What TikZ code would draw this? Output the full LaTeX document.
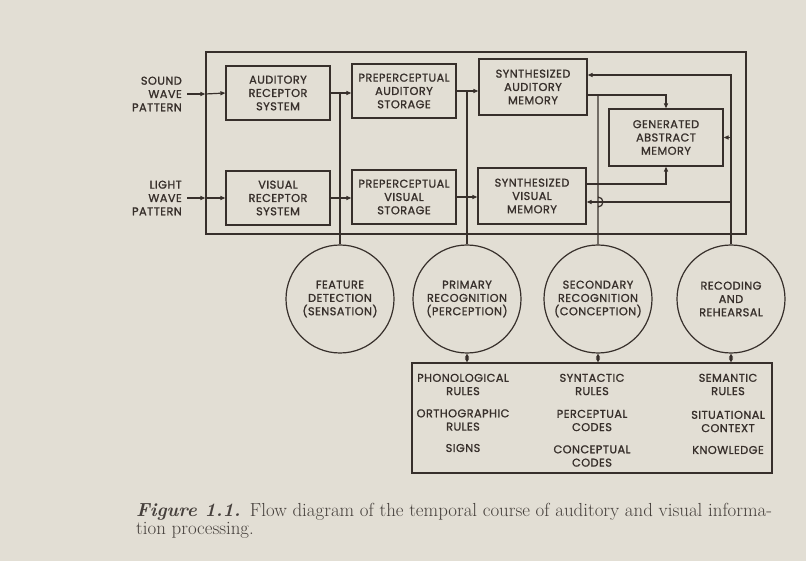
\documentclass[tikz,border=0pt]{standalone}
\usepackage{fontspec}
\newfontfamily\diagfont{Poppins}[LetterSpace=4,FakeBold=1.2]
\usetikzlibrary{arrows.meta}
\definecolor{paper}{RGB}{226,222,212}
\definecolor{ink}{RGB}{55,47,43}
\definecolor{captink}{RGB}{70,64,60}
\begin{document}
\begin{tikzpicture}[x=1pt,y=-1pt,
  every node/.style={text=ink},
  lbl/.style={font=\diagfont\fontsize{11.3}{13.3}\selectfont, align=center, inner sep=0pt},
  box/.style={lbl, draw=ink, line width=1.2pt, minimum width=104pt, minimum height=54pt},
  bigbox/.style={box, minimum width=108pt, minimum height=56pt},
  gambox/.style={box, minimum width=114pt, minimum height=57pt},
  circ/.style={lbl, draw=ink, line width=1.2pt, circle, minimum size=108pt},
  ln/.style={draw=ink, line width=1.2pt},
  arr/.style={ln, -{Triangle[length=5pt,width=4pt]}},
  dbl/.style={ln, {Triangle[length=4pt,width=4pt]}-{Triangle[length=4pt,width=4pt]}},
]
\fill[paper] (0,0) rectangle (806,561);
\useasboundingbox (0,0) rectangle (806,561);

% outer frame
\node[draw=ink, line width=1.2pt, minimum width=540pt, minimum height=182pt, inner sep=0pt] (outer) at (476,143) {};

% boxes
\node[box] (ARS) at (278,93) {AUDITORY\\RECEPTOR\\SYSTEM};
\node[box] (PAS) at (404,91) {PREPERCEPTUAL\\AUDITORY\\STORAGE};
\node[box] (VRS) at (278,198) {VISUAL\\RECEPTOR\\SYSTEM};
\node[box] (PVS) at (404,197) {PREPERCEPTUAL\\VISUAL\\STORAGE};
\node[bigbox] (SAM) at (533,87) {SYNTHESIZED\\AUDITORY\\MEMORY};
\node[bigbox] (SVM) at (532,196) {SYNTHESIZED\\VISUAL\\MEMORY};
\node[gambox] (GAM) at (666,137.5) {GENERATED\\ABSTRACT\\MEMORY};

% input labels
\node[lbl, align=right, anchor=east] (snd) at (182,94) {SOUND\\WAVE\\PATTERN};
\node[lbl, align=right, anchor=east] (lgt) at (182,198) {LIGHT\\WAVE\\PATTERN};

% circles
\node[circ] (FD) at (340,299) {FEATURE\\DETECTION\\(SENSATION)};
\node[circ] (PR) at (467,299) {PRIMARY\\RECOGNITION\\(PERCEPTION)};
\node[circ] (SR) at (598,299) {SECONDARY\\RECOGNITION\\(CONCEPTION)};
\node[circ] (RR) at (731,299) {RECODING\\AND\\REHEARSAL};

% knowledge box
\node[draw=ink, line width=1.2pt, minimum width=360pt, minimum height=110pt, inner sep=0pt] (KB) at (592,418) {};
\node[lbl] (k11) at (463,384.5) {PHONOLOGICAL\\RULES};
\node[lbl] (k12) at (463,420) {ORTHOGRAPHIC\\RULES};
\node[lbl] (k13) at (463,448) {SIGNS};
\node[lbl] (k21) at (592,384.5) {SYNTACTIC\\RULES};
\node[lbl] (k22) at (592,420.5) {PERCEPTUAL\\CODES};
\node[lbl] (k23) at (592,456) {CONCEPTUAL\\CODES};
\node[lbl] (k31) at (728,384.5) {SEMANTIC\\RULES};
\node[lbl] (k32) at (728,421.5) {SITUATIONAL\\CONTEXT};
\node[lbl] (k33) at (728,450) {KNOWLEDGE};

% inputs
\draw[arr] ([xshift=5pt]snd.east) -- (snd.east -| outer.west);
\draw[arr] (snd.east -| outer.west) -- (ARS.west);
\draw[arr] ([xshift=5pt]lgt.east) -- (lgt.east -| outer.west);
\draw[arr] (lgt.east -| outer.west) -- (VRS.west);

% receptor -> storage
\draw[arr] (ARS.east) -- (ARS.east -| PAS.west);
\draw[arr] (VRS.east) -- (VRS.east -| PVS.west);
\draw[ln] (FD.north) -- (FD.north |- ARS.east);

% storage -> synthesized
\draw[arr] (PAS.east) -- (PAS.east -| SAM.west);
\draw[arr] (PVS.east) -- (PVS.east -| SVM.west);
\draw[ln] (PR.north) -- (PR.north |- PAS.east);

% synthesized -> generated abstract
\coordinate (sa) at (587,95);
\coordinate (sv) at (585,184);
\draw[arr] (sa) -- (sa -| GAM.north) -- (GAM.north);
\draw[arr] (sv) -- (sv -| GAM.south) -- (GAM.south);

% secondary recognition line with hop
\coordinate (hop) at (598,202);
\draw[ln] (SR.north) -- ([yshift=5pt]hop) arc[start angle=90,end angle=-90,radius=5pt] -- (SR.north |- sa);

% recoding feedback
\coordinate (fbt) at (731,75);
\coordinate (fbv) at (731,202);
\draw[arr] (RR.north) -- (fbt) -- (fbt -| SAM.east);
\draw[arr] (RR.north |- GAM.east) -- (GAM.east);
\draw[arr] (fbv) -- (fbv -| SVM.east);

% links to knowledge box
\draw[dbl] (PR.south) -- (PR.south |- KB.north);
\draw[dbl] (SR.south) -- (SR.south |- KB.north);
\draw[dbl] (RR.south) -- (RR.south |- KB.north);

% caption
\node[anchor=north west, align=left, inner sep=0pt, text=captink,
  font=\fontsize{18.9}{18.5}\selectfont] (cap) at (136,503)
  {\textbf{\textit{Figure 1.1.}}\enspace Flow diagram of the temporal course of auditory and visual informa-\\tion processing.};
\end{tikzpicture}
\end{document}
